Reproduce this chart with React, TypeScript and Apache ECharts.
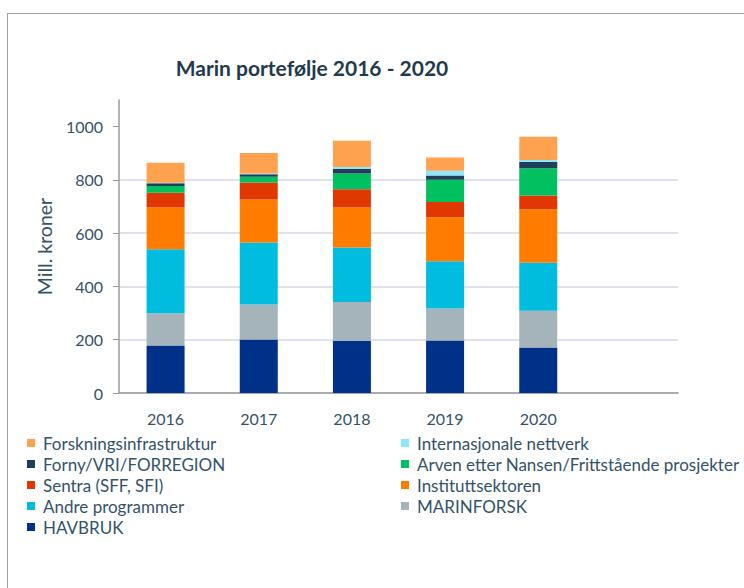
import React, { useEffect, useRef } from "react";
import * as echarts from "echarts";

const years = ["2016", "2017", "2018", "2019", "2020", ""];
const yTicks = [0, 200, 400, 600, 800, 1000];

const havbruk = [178, 201, 195, 197, 171];
const marinforsk = [121, 131, 147, 120, 138];
const andre = [241, 233, 204, 178, 180];
const institutt = [156, 161, 150, 165, 201];
const sentra = [56, 64, 69, 57, 51];
const arven = [25, 22, 59, 84, 103];
const forny = [10, 9, 18, 16, 23];
const internasjonale = [2, 3, 6, 17, 8];
const forskning = [75, 77, 99, 50, 87];

const seriesDefs = [
  { name: "HAVBRUK", data: havbruk, color: "#003189" },
  { name: "MARINFORSK", data: marinforsk, color: "#a5b3bb" },
  { name: "Andre programmer", data: andre, color: "#00bde0" },
  { name: "Instituttsektoren", data: institutt, color: "#ff7c00" },
  { name: "Sentra (SFF, SFI)", data: sentra, color: "#e03800" },
  { name: "Arven etter Nansen/Frittstående prosjekter", data: arven, color: "#00c060" },
  { name: "Forny/VRI/FORREGION", data: forny, color: "#1f3f5a" },
  { name: "Internasjonale nettverk", data: internasjonale, color: "#8ce8fa" },
  { name: "Forskningsinfrastruktur", data: forskning, color: "#ffa250" },
];

const legendLeft = ["Forskningsinfrastruktur", "Forny/VRI/FORREGION", "Sentra (SFF, SFI)", "Andre programmer", "HAVBRUK"];
const legendRight = ["Internasjonale nettverk", "Arven etter Nansen/Frittstående prosjekter", "Instituttsektoren", "MARINFORSK"];

const FONT = "Lato, 'Open Sans', sans-serif";
const TEXT = "#34536a";

export default function App() {
  const ref = useRef<HTMLDivElement>(null);
  useEffect(() => {
    if (!ref.current) return;
    const chart = echarts.init(ref.current, undefined, { renderer: "svg" });
    const legendCommon = {
      orient: "vertical" as const,
      icon: "rect",
      itemWidth: 8,
      itemHeight: 8,
      itemGap: 4,
      padding: 0,
      textStyle: { fontFamily: FONT, fontSize: 17, color: TEXT, lineHeight: 17, padding: [0, 0, 0, 3] },
      selectedMode: false,
    };
    chart.setOption({
      animation: false,
      backgroundColor: "#ffffff",
      textStyle: { fontFamily: FONT },
      title: {
        text: "Marin portefølje 2016 - 2020",
        left: 312,
        top: 57,
        padding: 0,
        textAlign: "center",
        textStyle: { fontFamily: FONT, fontSize: 21, fontWeight: "bold", color: "#1f3a4f" },
      },
      graphic: [
        { type: "line", shape: { x1: 7, y1: 13.5, x2: 744, y2: 13.5 }, style: { stroke: "#a0a0a0", lineWidth: 1 } },
        { type: "line", shape: { x1: 7.5, y1: 13, x2: 7.5, y2: 588 }, style: { stroke: "#a0a0a0", lineWidth: 1 } },
      ],
      legend: [
        { ...legendCommon, left: 27, top: 434.5, data: legendLeft },
        { ...legendCommon, left: 401, top: 434.5, data: legendRight },
      ],
      grid: { left: 119, right: 66, top: 100, bottom: 195, containLabel: false },
      xAxis: {
        type: "category",
        data: years,
        axisLine: { lineStyle: { color: "#9a9a9a", width: 1.5 } },
        axisTick: { show: false },
        axisLabel: { fontFamily: FONT, fontSize: 16, color: TEXT, margin: 17 },
      },
      yAxis: {
        type: "value",
        min: 0,
        max: 1100,
        interval: 100,
        name: "Mill. kroner",
        nameLocation: "middle",
        nameGap: 62,
        nameTextStyle: { fontFamily: FONT, fontSize: 19.5, color: TEXT },
        axisLine: { show: true, lineStyle: { color: "#9a9a9a", width: 1.5 } },
        axisTick: { show: true, length: 6, lineStyle: { color: "#9a9a9a" }, customValues: yTicks },
        axisLabel: {
          fontFamily: FONT,
          fontSize: 16,
          color: TEXT,
          margin: 16,
          customValues: yTicks,
          formatter: (v: number) => String(v),
        },
        splitLine: {
          show: true,
          lineStyle: { color: "#d5d9e4", width: 1.5 },
          showMaxLine: false,
        },
      },
      series: seriesDefs.map((s) => ({
        name: s.name,
        type: "bar",
        stack: "total",
        barWidth: 38,
        data: s.data,
        itemStyle: { color: s.color },
      })),
    });
    return () => chart.dispose();
  }, []);
  return <div ref={ref} style={{ width: 744, height: 588, position: "absolute", left: 0, top: 0 }} />;
}
